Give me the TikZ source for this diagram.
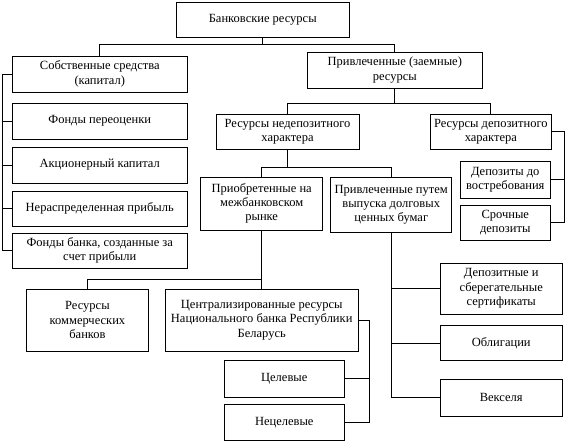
\documentclass[tikz,border=0pt]{standalone}
\usepackage{fontspec}
\setmainfont{Liberation Serif}
\newfontfamily\boxfont{Liberation Serif}
\tikzset{
  box/.style={draw, line width=0.9pt, align=center, inner sep=0pt,
    font=\boxfont\fontsize{12.5pt}{14.3pt}\selectfont},
  conn/.style={line width=0.9pt}
}
\newcommand{\mybox}[6]{\node[box, minimum width={#4pt-#2pt}, minimum height={#5pt-#3pt}] (#1) at ({(#2+#4)/2},{(#3+#5)/2}) {#6};}
\begin{document}
\begin{tikzpicture}[x=1pt,y=-1pt]
\useasboundingbox (0,0) rectangle (566,444);
\mybox{bank}{176}{2}{349.5}{37}{Банковские ресурсы}
\mybox{own}{12.5}{56}{187}{92}{Собственные средства\\(капитал)}
\mybox{reval}{12.5}{103}{187}{139}{Фонды переоценки}
\mybox{share}{12.5}{147}{187}{183}{Акционерный капитал}
\mybox{retained}{12.5}{191}{187}{226}{Нераспределенная прибыль}
\mybox{funds}{12.5}{233}{187}{268}{Фонды банка, созданные за\\счет прибыли}
\mybox{borrowed}{307.5}{52}{482}{88}{Привлеченные (заемные)\\ресурсы}
\mybox{nondep}{216}{114}{359}{149}{Ресурсы недепозитного\\характера}
\mybox{dep}{430}{114}{551.7}{149}{Ресурсы депозитного\\характера}
\mybox{demand}{460.5}{161}{550}{198}{Депозиты до\\востребования}
\mybox{term}{460.5}{205}{550}{240}{Срочные\\депозиты}
\mybox{interbank}{200.7}{177}{322.7}{230}{Приобретенные на\\межбанковском\\рынке}
\mybox{issued}{330.7}{177}{451.7}{232.7}{Привлеченные путем\\выпуска долговых\\ценных бумаг}
\mybox{commercial}{26.4}{289.3}{148.5}{351}{Ресурсы\\коммерческих\\банков}
\mybox{central}{165}{289.3}{358.4}{351}{Централизированные ресурсы\\Национального банка Республики\\Беларусь}
\mybox{target}{224}{360}{344.5}{397.3}{Целевые}
\mybox{nontarget}{224}{404.3}{344.5}{440.7}{Нецелевые}
\mybox{certs}{440.5}{263}{562}{314}{Депозитные и\\сберегательные\\сертификаты}
\mybox{bonds}{440.5}{325.7}{562}{360.7}{Облигации}
\mybox{bills}{440.5}{379.3}{562}{416}{Векселя}

\coordinate (j1) at (262.75,44.3);
\coordinate (j2) at (394.75,103.5);
\coordinate (j3) at (287.5,167.5);
\coordinate (j4) at (261.7,279.3);
\coordinate (lx) at (2.5,0);
\coordinate (dx) at (564.2,0);
\coordinate (cx) at (369.3,0);

\draw[conn] (bank.south) -- (j1);
\draw[conn] (own.north) |- (j1) -| (borrowed.north);
\draw[conn] (own.west) -- (own.west -| lx) |- (funds.west);
\draw[conn] (reval.west) -- (reval.west -| lx);
\draw[conn] (share.west) -- (share.west -| lx);
\draw[conn] (retained.west) -- (retained.west -| lx);
\draw[conn] (borrowed.south) -- (j2);
\draw[conn] (nondep.north) |- (j2) -| (dep.north);
\draw[conn] (dep.east) -- (dep.east -| dx) |- (term.east);
\draw[conn] (demand.east) -- (demand.east -| dx);
\draw[conn] (nondep.south) -- (j3);
\draw[conn] (interbank.north) |- (j3) -| (issued.north);
\draw[conn] (interbank.south) -- (central.north);
\draw[conn] (commercial.north) |- (j4);
\draw[conn] (central.east) -- (central.east -| cx) |- (nontarget.east);
\draw[conn] (target.east) -- (target.east -| cx);
\draw[conn] (issued.south) |- (bills.west);
\draw[conn] (certs.west) -- (certs.west -| issued.south);
\draw[conn] (bonds.west) -- (bonds.west -| issued.south);
\end{tikzpicture}
\end{document}
